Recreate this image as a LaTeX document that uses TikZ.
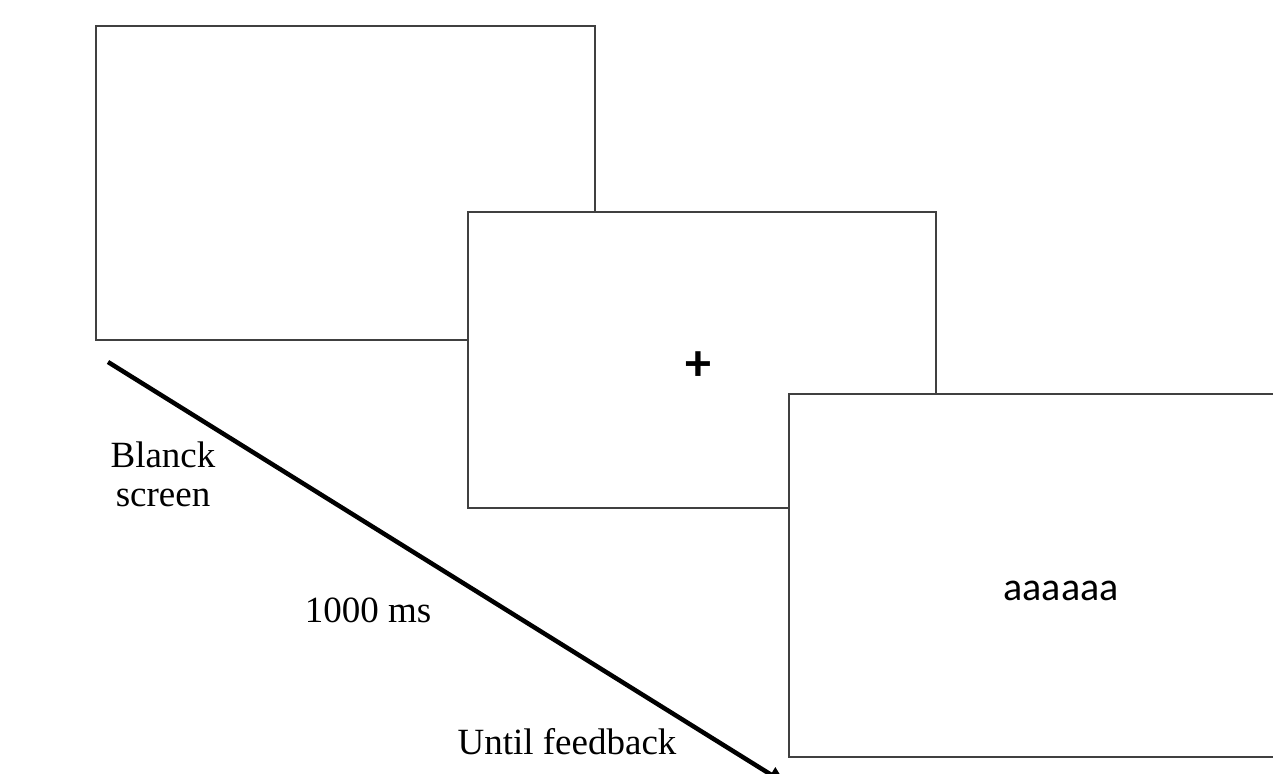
\documentclass[tikz,border=0pt]{standalone}
\usepackage{fontspec}
\setmainfont{Liberation Serif}
\newfontfamily\screenfont{Carlito}
\usetikzlibrary{arrows.meta}
\tikzset{
  screenbox/.style={draw=black!75, line width=1.5pt, fill=white},
  label/.style={font=\fontsize{37}{44}\selectfont, anchor=base, inner sep=0pt, align=center},
  timeline/.style={line width=4.5pt, -{Triangle[length=18pt,width=16pt]}}
}
\begin{document}
\begin{tikzpicture}[x=1pt,y=-1pt]
  \useasboundingbox (0,0) rectangle (1273,773);
  \clip (0,0) rectangle (1273,773);
  % three screens, each in front of the previous one
  \draw[screenbox] (96,26) rectangle (595,340);
  \draw[screenbox] (468,212) rectangle (936,508);
  \draw[screenbox] (789,394) rectangle (1300,757);
  \node[font=\screenfont\bfseries\fontsize{52}{52}\selectfont, inner sep=0pt] (fix) at (698,366) {+};
  \node[font=\screenfont\fontsize{40}{40}\selectfont, inner sep=0pt] (stim) at (1061,591) {aaaaaa};
  % time axis
  \coordinate (tstart) at (108,362);
  \coordinate (tend) at (786,784);
  \draw[timeline] (tstart) -- (tend);
  \node[label] (blank1) at (163,467) {Blanck};
  \node[label] (blank2) at (163,506) {screen};
  \node[label] (dur) at (368,622) {1000 ms};
  \node[label] (until) at (567,754) {Until feedback};
\end{tikzpicture}
\end{document}
